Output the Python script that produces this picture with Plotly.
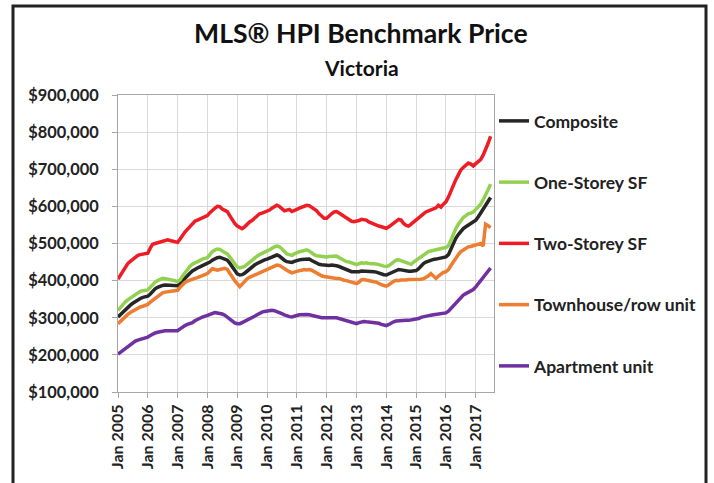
import pandas as pd
import plotly.graph_objects as go

# Monthly values (thousands of $), Jan 2005 .. Jul 2017
composite = [
    302, 309, 316, 323, 329, 334, 339, 344, 349, 352, 355, 356,
    358, 364, 372, 378, 382, 385, 387, 388, 388, 387, 386, 386,
    386, 393, 400, 406, 414, 420, 426, 431, 434, 437, 440, 443,
    446, 450, 455, 459, 462, 463, 460, 457, 455, 447, 438, 428,
    418, 415, 416, 420, 426, 432, 438, 442, 446, 450, 453, 456,
    458, 461, 464, 467, 469, 466, 460, 455, 451, 450, 449, 452,
    455, 456, 457, 458, 459, 458, 454, 450, 446, 444, 443, 442,
    441, 441, 442, 442, 440, 438, 435, 432, 428, 425, 424, 424,
    423, 424, 426, 426, 426, 425, 424, 424, 423, 420, 418, 416,
    415, 418, 422, 426, 429, 430, 429, 427, 426, 425, 425, 426,
    427, 432, 440, 446, 450, 453, 455, 457, 458, 460, 462, 463,
    464, 470, 485, 500, 514, 524, 533, 540, 545, 550, 554, 558,
    563, 572, 582, 590, 600, 612, 624,
]
one_storey = [
    320, 328, 336, 343, 348, 353, 358, 363, 368, 371, 373, 374,
    375, 382, 390, 396, 400, 404, 406, 405, 404, 403, 402, 400,
    397, 402, 412, 422, 430, 438, 444, 448, 452, 455, 458, 460,
    462, 470, 478, 482, 485, 484, 481, 476, 472, 465, 455, 445,
    437, 434, 435, 438, 444, 450, 456, 461, 466, 470, 474, 478,
    480, 483, 488, 491, 493, 491, 486, 478, 472, 470, 468, 472,
    476, 478, 479, 482, 483, 480, 474, 470, 467, 466, 465, 464,
    464, 465, 466, 467, 466, 462, 458, 455, 451, 450, 449, 446,
    443, 446, 448, 447, 448, 446, 446, 444, 445, 443, 440, 439,
    438, 440, 445, 450, 455, 456, 454, 451, 448, 446, 444, 450,
    455, 460, 465, 470, 474, 478, 480, 482, 484, 486, 487, 488,
    489, 494, 508, 525, 540, 552, 562, 570, 575, 580, 582, 585,
    592, 600, 606, 618, 630, 645, 660,
]
two_storey = [
    404, 415, 426, 437, 446, 452, 458, 463, 468, 470, 472, 473,
    474, 488, 498, 500, 502, 505, 507, 509, 510, 508, 506, 504,
    503, 512, 522, 531, 538, 546, 553, 560, 563, 566, 570, 572,
    575, 583, 590, 595, 600, 599, 593, 590, 586, 575, 563, 554,
    547, 543, 540, 545, 552, 558, 562, 568, 574, 580, 582, 584,
    586, 590, 595, 598, 603, 600, 594, 588, 590, 592, 586, 588,
    592, 595, 597, 600, 603, 602, 597, 592, 588, 580, 574, 568,
    568, 575, 580, 585, 586, 582, 578, 572, 568, 566, 560, 559,
    560, 562, 565, 563, 563, 558, 555, 552, 548, 547, 545, 543,
    541, 545, 550, 556, 562, 565, 563, 554, 549, 547, 552, 558,
    563, 568, 575, 580, 585, 588, 590, 592, 596, 603, 598, 606,
    612, 625, 642, 657, 672, 685, 698, 705, 712, 717, 714, 709,
    715, 722, 726, 738, 752, 770, 789,
]
townhouse = [
    284, 291, 298, 304, 309, 314, 318, 323, 327, 329, 331, 333,
    336, 342, 347, 352, 358, 363, 367, 369, 370, 371, 372, 373,
    374, 382, 390, 395, 399, 402, 404, 406, 408, 410, 413, 416,
    419, 426, 432, 430, 428, 430, 432, 433, 430, 419, 408, 400,
    392, 384, 390, 398, 405, 409, 412, 415, 419, 421, 424, 428,
    432, 434, 437, 440, 442, 441, 436, 432, 428, 424, 421, 423,
    426, 427, 428, 430, 429, 430, 428, 424, 419, 416, 413, 411,
    410, 408, 406, 405, 406, 406, 403, 401, 400, 398, 397, 394,
    392, 396, 402, 403, 401, 399, 398, 397, 396, 392, 389, 387,
    385, 389, 394, 398, 401, 400, 402, 401, 402, 403, 403, 402,
    403, 403, 404, 405, 408, 413, 419, 412, 406, 412, 418, 422,
    424, 430, 440, 451, 462, 470, 478, 483, 488, 491, 492, 494,
    496, 498, 500, 493, 552, 548, 543,
]
apartment = [
    202, 207, 212, 217, 222, 228, 233, 237, 240, 242, 243, 245,
    248, 252, 256, 259, 261, 263, 265, 265, 265, 265, 265, 264,
    265, 270, 275, 279, 282, 284, 287, 292, 296, 299, 302, 304,
    306, 309, 312, 314, 313, 312, 310, 307, 302, 296, 290, 286,
    284, 284, 287, 290, 294, 298, 301, 304, 308, 312, 315, 317,
    318, 320, 320, 319, 317, 314, 311, 308, 305, 303, 302, 303,
    306, 308, 309, 310, 309, 308, 306, 304, 302, 301, 300, 300,
    300, 301, 301, 300, 300, 298, 296, 294, 291, 288, 286, 285,
    284, 287, 289, 290, 289, 288, 288, 288, 287, 285, 282, 280,
    279, 282, 286, 289, 291, 292, 293, 293, 293, 293, 294, 294,
    295, 298, 301, 303, 305, 306, 307, 308, 309, 310, 311, 312,
    313, 318, 325, 333, 341, 349, 356, 361, 365, 369, 372, 376,
    383, 392, 400, 410, 420, 428, 434,
]

series_names = ["Composite", "One-Storey SF", "Two-Storey SF",
                "Townhouse/row unit", "Apartment unit"]
series_values = [composite, one_storey, two_storey, townhouse, apartment]
series_colors = ["#262626", "#92d050", "#ee1c25", "#ed7d31", "#7030a0"]

year_ticks = [f"{y}-01-01" for y in range(2005, 2018)]
year_tick_labels = [f"Jan {y}" for y in range(2005, 2018)]
price_ticks = [100000, 200000, 300000, 400000, 500000, 600000, 700000, 800000, 900000]
price_tick_labels = ["$100,000", "$200,000", "$300,000", "$400,000", "$500,000",
                     "$600,000", "$700,000", "$800,000", "$900,000"]

months = pd.date_range("2005-01-01", periods=len(composite), freq="MS")

FONT = "Lato"
fig = go.Figure()
for name, vals, col in zip(series_names, series_values, series_colors):
    fig.add_trace(go.Scatter(
        x=months, y=[v * 1000 for v in vals], mode="lines", name=name,
        legendgroup=name, line=dict(color=col, width=3.5),
    ))

L, R, T, B = 118, 220, 95, 91
W, H = 714, 483
pw, ph = W - L - R, H - T - B

def px_x(p):
    return (p - L) / pw

def px_y(p):
    return (H - B - p) / ph

fig.update_layout(
    width=W, height=H,
    margin=dict(l=L, r=R, t=T, b=B, pad=0, autoexpand=False),
    paper_bgcolor="white", plot_bgcolor="white",
    font=dict(family=FONT, color="#222222"),
    showlegend=True,
    legend=dict(x=px_x(494), y=px_y(103), xanchor="left", yanchor="top",
                font=dict(size=17.5, family=FONT, color="#222222", weight="bold"),
                tracegroupgap=35.5, itemwidth=30, bgcolor="rgba(0,0,0,0)"),
    xaxis=dict(
        range=["2005-01-01", "2017-08-12"],
        tickmode="array", tickvals=year_ticks, ticktext=year_tick_labels,
        tickangle=-90, ticks="outside", ticklen=5, tickcolor="#a6a6a6",
        tickfont=dict(size=16, family=FONT, color="#222222", weight="bold"),
        showgrid=True, gridcolor="#d9d9d9", gridwidth=1,
        showline=True, linecolor="#a6a6a6", linewidth=1, mirror=True,
        zeroline=False,
    ),
    yaxis=dict(
        range=[100000, 900000],
        tickmode="array", tickvals=price_ticks, ticktext=price_tick_labels,
        ticks="outside", ticklen=5, tickcolor="#a6a6a6",
        tickfont=dict(size=16.4, family=FONT, color="#222222", weight="bold"),
        showgrid=True, gridcolor="#d9d9d9", gridwidth=1,
        showline=True, linecolor="#a6a6a6", linewidth=1, mirror=True,
        zeroline=False, ticklabelstandoff=10,
    ),
)

fig.add_annotation(text="MLS® HPI Benchmark Price", xref="paper", yref="paper",
                   x=px_x(361), y=px_y(33), xanchor="center", yanchor="middle",
                   showarrow=False,
                   font=dict(size=26.6, family=FONT, color="#111111", weight="bold"))
fig.add_annotation(text="Victoria", xref="paper", yref="paper",
                   x=px_x(361), y=px_y(67), xanchor="center", yanchor="middle",
                   showarrow=False,
                   font=dict(size=21, family=FONT, color="#111111", weight="bold"))

fig.add_shape(type="rect", xref="paper", yref="paper",
              x0=px_x(13), x1=px_x(706), y0=px_y(495), y1=px_y(6),
              line=dict(color="#222222", width=3), fillcolor="rgba(0,0,0,0)",
              layer="above")

fig.write_html("out.html",
               config={"displayModeBar": False},
               post_script="document.body.style.margin='0';document.body.style.padding='0';")
